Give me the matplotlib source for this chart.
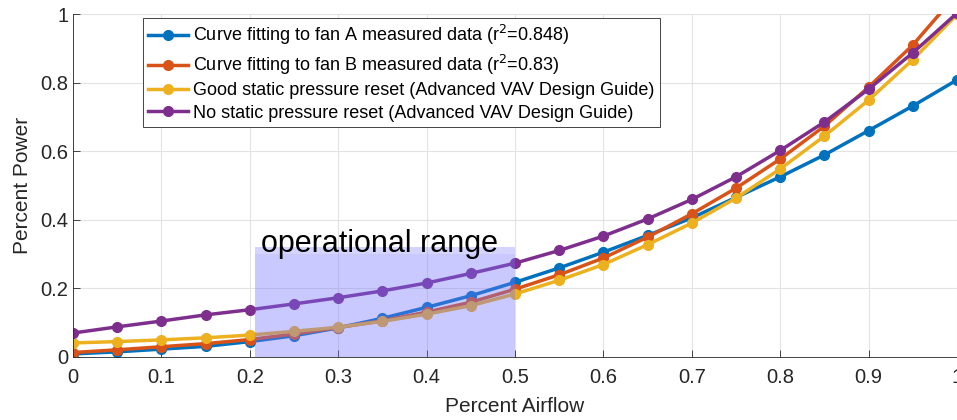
import numpy as np
import matplotlib.pyplot as plt
from matplotlib.patches import Rectangle

plt.rcParams['font.family'] = ['Liberation Sans', 'DejaVu Sans']

airflow = [0, 0.05, 0.1, 0.15, 0.2, 0.25, 0.3, 0.35, 0.4, 0.45, 0.5,
           0.55, 0.6, 0.65, 0.7, 0.75, 0.8, 0.85, 0.9, 0.95, 1.0]

fan_a = [0.009, 0.015, 0.023, 0.031, 0.045, 0.062, 0.085, 0.113, 0.145, 0.179, 0.218,
         0.260, 0.306, 0.355, 0.406, 0.466, 0.526, 0.590, 0.661, 0.733, 0.809]
fan_b = [0.013, 0.021, 0.030, 0.039, 0.051, 0.067, 0.086, 0.106, 0.131, 0.160, 0.198,
         0.240, 0.289, 0.350, 0.418, 0.493, 0.578, 0.674, 0.788, 0.911, 1.06]
good_reset = [0.041, 0.045, 0.050, 0.056, 0.064, 0.075, 0.087, 0.104, 0.125, 0.150, 0.184,
              0.224, 0.270, 0.328, 0.391, 0.464, 0.549, 0.645, 0.750, 0.868, 1.0]
no_reset = [0.070, 0.088, 0.105, 0.123, 0.138, 0.155, 0.173, 0.193, 0.216, 0.244, 0.274,
            0.311, 0.353, 0.403, 0.460, 0.526, 0.603, 0.686, 0.782, 0.888, 1.004]

labels = ['Curve fitting to fan A measured data (r$^2$=0.848)',
          'Curve fitting to fan B measured data (r$^2$=0.83)',
          'Good static pressure reset (Advanced VAV Design Guide)',
          'No static pressure reset (Advanced VAV Design Guide)']
colors = ['#0072BD', '#D95319', '#EDB120', '#7E2F8E']

fig = plt.figure(figsize=(9.57, 4.2), dpi=100)
ax = fig.add_axes([0.0763, 0.15, 0.9237, 0.8155])

for y, c, lab in zip([fan_a, fan_b, good_reset, no_reset], colors, labels):
    ax.plot(airflow, y, '-o', color=c, lw=2.5, ms=7, label=lab)

# shaded operating window, drawn over the curves
ax.add_patch(Rectangle((0.206, 0), 0.294, 0.30, facecolor=(0.45, 0.45, 1.0), alpha=0.38,
                       edgecolor='none', zorder=5))
ax.add_patch(Rectangle((0.206, 0.30), 0.294, 0.021, facecolor=(0.45, 0.45, 1.0), alpha=0.3,
                       edgecolor='none', zorder=5))
ax.text(0.213, 0.287, 'operational range', fontsize=22, color='black',
        ha='left', va='bottom', zorder=6)

ax.set_xlim(0, 1)
ax.set_ylim(0, 1)
ax.set_xticks(np.arange(0, 1.01, 0.1))
ax.set_xticklabels(['0', '0.1', '0.2', '0.3', '0.4', '0.5', '0.6', '0.7', '0.8', '0.9', '1'])
ax.set_yticks([0, 0.2, 0.4, 0.6, 0.8, 1])
ax.set_yticklabels(['0', '0.2', '0.4', '0.6', '0.8', '1'])
ax.tick_params(labelsize=14.5, colors='#262626', direction='in', length=5, width=0.6)
ax.tick_params(axis='x', pad=8)
ax.grid(True, color='#e3e3e3', lw=0.8)
ax.set_axisbelow(True)
for s in ['top', 'right']:
    ax.spines[s].set_visible(False)
for s in ['left', 'bottom']:
    ax.spines[s].set_color('#262626')
    ax.spines[s].set_linewidth(0.6)

ax.set_xlabel('Percent Airflow', fontsize=15, color='#262626', labelpad=7)
ax.set_ylabel('Percent Power', fontsize=15, color='#262626', labelpad=6)

leg = ax.legend(loc='upper left', bbox_to_anchor=(0.079, 0.99), fontsize=13,
                frameon=True, fancybox=False, edgecolor='#262626', framealpha=1,
                handlelength=2.2, handletextpad=0.3, borderpad=0.3, labelspacing=0.3,
                borderaxespad=0)
leg.get_frame().set_linewidth(0.6)

fig.savefig('out.png', dpi=100)
